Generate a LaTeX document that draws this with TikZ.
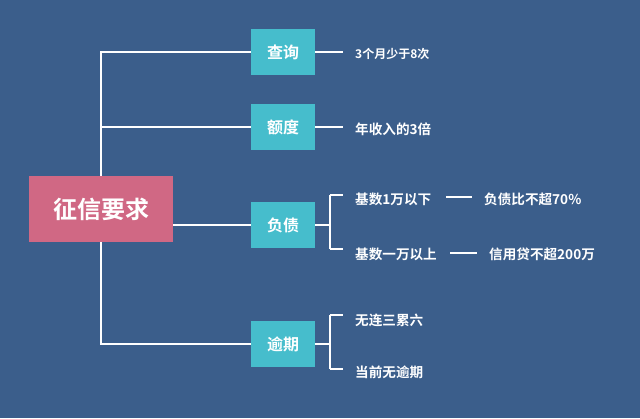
\documentclass[tikz,border=0pt]{standalone}
\usepackage{fontspec}
\setmainfont{Noto Sans CJK SC}[BoldFont={Noto Sans CJK SC Bold}]
\usetikzlibrary{calc}
\definecolor{bgblue}{RGB}{59,94,139}
\definecolor{teal}{RGB}{70,189,204}
\definecolor{rootpink}{RGB}{208,104,132}
\tikzset{
  conn/.style={draw=white, line width=2.6pt},
  dashline/.style={draw=white, line width=2pt},
  rootbox/.style={fill=rootpink, minimum width=144pt, minimum height=66pt, inner sep=0pt, text=white, font=\bfseries\fontsize{24}{28}\selectfont},
  catbox/.style={fill=teal, minimum width=64pt, minimum height=46pt, inner sep=0pt, text=white, font=\bfseries\fontsize{16}{19}\selectfont},
  leaf/.style={anchor=west, inner sep=0pt, text=white, font=\bfseries\fontsize{13.6}{16}\selectfont},
  smallleaf/.style={leaf, font=\bfseries\fontsize{12}{14}\selectfont}
}
\begin{document}
\begin{tikzpicture}[x=1pt,y=-1pt]
\useasboundingbox (0,0) rectangle (640,418);
\fill[bgblue] (0,0) rectangle (640,418);
% category boxes
\node[catbox] (cx) at (283,52) {查询};
\node[catbox] (ed) at (283,127) {额度};
\node[catbox] (fz) at (283,225) {负债};
\node[catbox] (yq) at (283,344) {逾期};
% trunk and branches (drawn before root so root covers trunk)
\coordinate (tk) at (101,0);
\draw[conn] (cx.west) -- (cx.west -| tk) -- (yq.west -| tk) -- (yq.west);
\draw[conn] (ed.west -| tk) -- (ed.west);
% root
\node[rootbox] (root) at (101,209) {征信要求};
\draw[conn] (root.east |- fz.west) -- (fz.west);
% leaves
\node[smallleaf] (cx1) at (355,54) {3个月少于8次};
\node[leaf] (ed1) at (355,129) {年收入的3倍};
\node[leaf] (fz1) at (355,199) {基数1万以下};
\node[leaf] (fz1b) at (484,199) {负债比不超70\%};
\node[leaf] (fz2) at (355,254) {基数一万以上};
\node[leaf] (fz2b) at (489,254) {信用贷不超200万};
\node[leaf] (yq1) at (355,320) {无连三累六};
\node[leaf] (yq2) at (355,372) {当前无逾期};
% simple connectors
\coordinate (sx) at (343,0);
\coordinate (bx) at (330,0);
\draw[conn] (cx.east) -- (cx.east -| sx);
\draw[conn] (ed.east) -- (ed.east -| sx);
% bracket for fz
\draw[conn] (fz.east) -- (fz.east -| bx);
\draw[conn] (bx |- 0,195) coordinate (fzt) -- (bx |- 0,249) coordinate (fzb);
\draw[conn] (fzt) -- (fzt -| sx);
\draw[conn] (fzb) -- (fzb -| sx);
% bracket for yq
\draw[conn] (yq.east) -- (yq.east -| bx);
\draw[conn] (bx |- 0,315) coordinate (yqt) -- (bx |- 0,369) coordinate (yqb);
\draw[conn] (yqt) -- (yqt -| sx);
\draw[conn] (yqb) -- (yqb -| sx);
% dashes between leaf texts
\draw[dashline] ($(fz1b.west)+(-38,-2)$) -- ($(fz1b.west)+(-12,-2)$);
\draw[dashline] ($(fz2b.west)+(-39,-1)$) -- ($(fz2b.west)+(-12,-1)$);
\end{tikzpicture}
\end{document}
